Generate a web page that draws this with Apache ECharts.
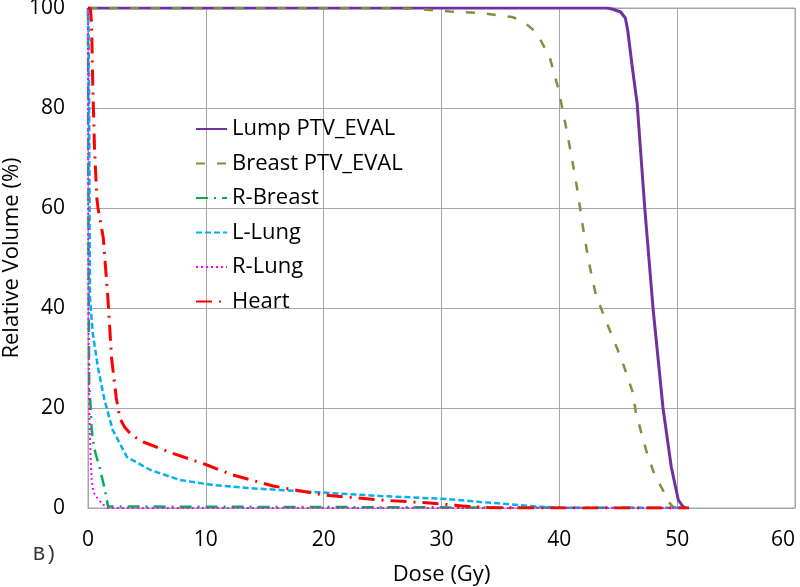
<!DOCTYPE html>
<html>
<head>
    <meta charset="utf-8">
    <title>DVH</title>
    <script src="https://cdn.jsdelivr.net/npm/echarts@6.0.0/dist/echarts.min.js"></script>
    <style>
        html, body { margin: 0; padding: 0; background: #fff; }
        #chart { width: 800px; height: 587px; }
    </style>
</head>
<body>
<div id="chart"></div>
<script>
    // [dose Gy, relative volume %]
    var lumpPtv = [[0, 100], [44, 100], [44.5, 99.8], [45.2, 99.2], [45.6, 98], [45.8, 95.6], [46.2, 88],
        [46.6, 81], [47.25, 60], [47.95, 40], [48.8, 20], [49.5, 8.2], [50.1, 1.6], [50.45, 0.4], [50.7, 0]];
    var breastPtv = [[0, 100], [25, 100], [28, 99.8], [30.7, 99.3], [33.3, 99], [36, 98.2], [37, 97.2],
        [38.1, 95], [39.2, 90], [39.9, 84], [40.5, 77], [41.05, 70.2], [41.56, 63.2], [42, 56.2], [42.5, 49.2],
        [43.1, 42.6], [44.2, 36], [45.3, 29.6], [46.25, 23], [46.5, 19], [47.4, 11.3], [48.1, 6.5], [48.7, 4],
        [49.2, 1.5], [49.6, 0.3], [50, 0]];
    var rBreast = [[0, 100], [0.05, 50], [0.1, 25], [0.25, 19], [0.3, 16], [0.5, 12.2], [0.75, 10], [1.0, 8],
        [1.4, 4], [1.55, 2.2], [1.7, 0.3], [1.8, 0], [51, 0]];
    var lLung = [[0, 100], [0.05, 95], [0.1, 80], [0.13, 60], [0.17, 42], [0.4, 35], [0.85, 28], [1.4, 21.6],
        [2.1, 15.6], [3.3, 10.2], [5.3, 7.6], [7.8, 5.6], [10.6, 4.6], [13.5, 4.0], [19.1, 3.2], [24.8, 2.4],
        [30.5, 1.8], [33.3, 1.2], [36, 0.7], [38, 0.3], [40, 0.1], [41, 0], [51, 0]];
    var rLung = [[0, 100], [0.03, 40], [0.1, 20], [0.2, 11.6], [0.3, 6], [0.45, 3.2], [0.8, 2], [1.2, 0.8],
        [1.7, 0], [51, 0]];
    var heart = [[0, 100], [0.2, 100], [0.3, 97], [0.4, 85], [0.55, 72], [0.75, 62], [0.85, 60], [1.3, 54],
        [1.7, 41.6], [2.0, 30], [2.4, 22], [2.7, 18], [3.1, 16.2], [3.7, 14.6], [4.7, 13.2], [7.1, 11],
        [10.1, 8.6], [12.3, 6.6], [15.7, 4.4], [20, 2.6], [24.8, 1.6], [29, 1.0], [31.8, 0.4], [34, 0.1],
        [35, 0], [51, 0]];

    var names = ['Lump PTV_EVAL', 'Breast PTV_EVAL', 'R-Breast', 'L-Lung', 'R-Lung', 'Heart'];
    var xTicks = [0, 10, 20, 30, 40, 50, 60];
    var yTicks = [0, 20, 40, 60, 80, 100];

    var font = '"Open Sans", "Noto Sans", sans-serif';

    function line(name, data, color, width, type) {
        return {
            name: name,
            type: 'line',
            data: data,
            symbol: 'none',
            showSymbol: false,
            animation: false,
            lineStyle: { color: color, width: width, type: type },
            itemStyle: { color: color }
        };
    }

    var chart = echarts.init(document.getElementById('chart'));

    chart.setOption({
        animation: false,
        grid: {
            left: 88, right: 5, top: 8, bottom: 79,
            outerBoundsMode: 'none',
            containLabel: false,
            show: true, borderColor: '#a6a6a6', borderWidth: 1
        },
        legend: {
            data: names,
            orient: 'vertical',
            left: 190,
            top: 113,
            itemWidth: 31,
            itemHeight: 20,
            itemGap: 12.5,
            itemStyle: { opacity: 0 },
            textStyle: { fontFamily: font, fontSize: 22, lineHeight: 20, color: '#000' }
        },
        xAxis: {
            type: 'value',
            min: xTicks[0],
            max: xTicks[xTicks.length - 1],
            interval: 10,
            name: 'Dose (Gy)',
            nameLocation: 'middle',
            nameGap: 56,
            nameTextStyle: { fontFamily: font, fontSize: 22, color: '#000' },
            axisLine: { show: true, lineStyle: { color: '#a6a6a6' } },
            axisTick: { show: false },
            splitLine: { show: true, lineStyle: { color: '#a6a6a6', width: 1 } },
            axisLabel: { fontFamily: font, fontSize: 21, color: '#000', margin: 22, alignMaxLabel: 'right' }
        },
        yAxis: {
            type: 'value',
            min: yTicks[0],
            max: yTicks[yTicks.length - 1],
            interval: 20,
            name: 'Relative Volume (%)',
            nameLocation: 'middle',
            nameGap: 65,
            nameMoveOverlap: false,
            nameTextStyle: { fontFamily: font, fontSize: 22, color: '#000' },
            axisLine: { show: true, lineStyle: { color: '#a6a6a6' } },
            axisTick: { show: false },
            splitLine: { show: true, lineStyle: { color: '#a6a6a6', width: 1 } },
            axisLabel: { fontFamily: font, fontSize: 21, color: '#000', margin: 23 }
        },
        graphic: [
            {
                type: 'text', left: 33, top: 545,
                style: { text: 'B)', fontFamily: '"Liberation Mono", monospace', fontSize: 20, fill: '#333' }
            }
        ],
        series: [
            line(names[0], lumpPtv, '#7030A0', 3, 'solid'),
            line(names[1], breastPtv, '#77933C', 2.5, [9, 12]),
            line(names[2], rBreast, '#00B050', 2.5, [12, 6, 2, 6]),
            line(names[3], lLung, '#00B0F0', 2.5, [6, 3]),
            line(names[4], rLung, '#FF00FF', 2, [2, 3]),
            line(names[5], heart, '#FF0000', 3, [16, 7, 2, 7])
        ]
    });
</script>
</body>
</html>
